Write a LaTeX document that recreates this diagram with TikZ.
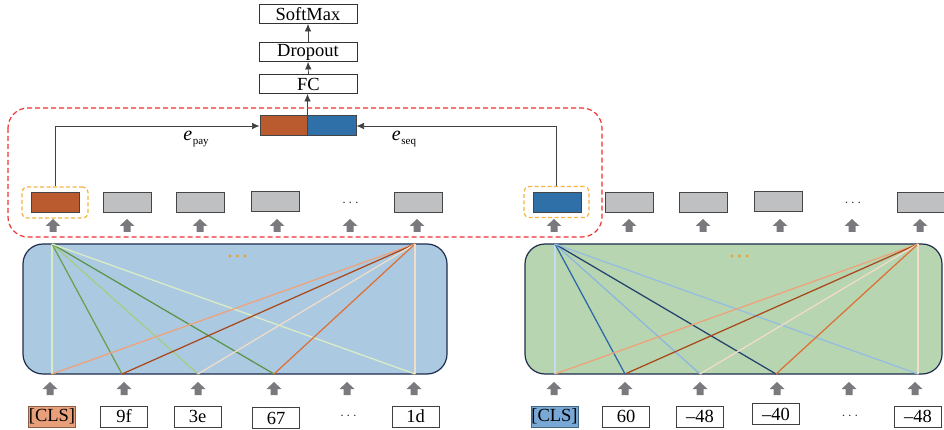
\documentclass[tikz,border=0pt]{standalone}
\usepackage{fontspec}
\setmainfont{Liberation Serif}
\usetikzlibrary{arrows.meta}

\definecolor{encblue}{HTML}{ABCAE2}
\definecolor{encgreen}{HTML}{B7D5B1}
\definecolor{encborder}{HTML}{1E2D4D}
\definecolor{vecorange}{HTML}{B95B2F}
\definecolor{vecblue}{HTML}{2F70A8}
\definecolor{vecgray}{HTML}{BFC0C2}
\definecolor{vecborder}{HTML}{454545}
\definecolor{arrgray}{HTML}{7A7A7E}
\definecolor{reddash}{HTML}{EE3333}
\definecolor{amber}{HTML}{F5B342}
\definecolor{dotorange}{HTML}{F0A030}
\definecolor{clsorange}{HTML}{E8A07A}
\definecolor{clsblue}{HTML}{78A9D6}
% attention lines
\definecolor{gPale}{HTML}{D9EBC2}
\definecolor{gMid}{HTML}{6C9E4C}
\definecolor{gLight}{HTML}{A5CD86}
\definecolor{gDark}{HTML}{5C9445}
\definecolor{gFaint}{HTML}{DCEDC6}
\definecolor{oSalmon}{HTML}{EFA27A}
\definecolor{oBrown}{HTML}{A9481A}
\definecolor{oPeach}{HTML}{F1DCC8}
\definecolor{oOrange}{HTML}{DE7036}
\definecolor{oPale}{HTML}{F2DDCB}
\definecolor{bPale}{HTML}{C6DCF0}
\definecolor{bMid}{HTML}{2C68A6}
\definecolor{bLight}{HTML}{8BB6E0}
\definecolor{bNavy}{HTML}{22416D}
\definecolor{bLightB}{HTML}{95BCE3}

\tikzset{
  uparr/.pic={\fill[arrgray] (-7.5,0) -- (0,-7) -- (7.5,0) -- (3.5,0) -- (3.5,6) -- (-3.5,6) -- (-3.5,0) -- cycle;},
  headbox/.style={draw=black!80, line width=0.8pt, fill=white, minimum width=98pt, minimum height=19pt, inner sep=0pt, font=\fontsize{18.5}{20}\selectfont},
  vecbox/.style={draw=vecborder, line width=1pt, minimum width=48pt, minimum height=20pt, inner sep=0pt},
  token/.style={draw=black!75, line width=0.7pt, fill=white, minimum width=47pt, minimum height=21pt, inner sep=0pt, font=\fontsize{18.5}{20}\selectfont},
  dots/.style={inner sep=0pt, text=black!80, font=\fontsize{15}{15}\selectfont},
  selbox/.style={draw=amber, line width=1.2pt, dash pattern=on 4pt off 2.5pt, rounded corners=5pt, minimum width=66pt, minimum height=31pt, inner sep=0pt},
  encoder/.style={draw=encborder, line width=1.2pt, rounded corners=20pt},
  arr/.style={draw=black!75, line width=0.7pt, -{Latex[length=7.5pt,width=6.5pt]}},
  att/.style={line width=1.25pt},
}

\begin{document}
\begin{tikzpicture}[x=1pt,y=-1pt]
\useasboundingbox (0,0) rectangle (944,430);

% ---------- classification head ----------
\node[headbox] (softmax) at (308,14) {SoftMax};
\node[headbox] (dropout) at (308,52) {Dropout};
\node[headbox] (fc) at (308.5,84) {FC};
\node[vecbox, fill=vecorange, minimum width=47pt] (catL) at (283.5,126) {};
\node[vecbox, fill=vecblue, minimum width=49pt] (catR) at (331.5,126) {};

\draw[arr] (catL.north east) -- (catL.north east |- fc.south);
\draw[arr] (fc.north) -- (dropout.south);
\draw[arr] (dropout.north) -- (softmax.south);

% ---------- region around the payload encoder output ----------
\draw[reddash, line width=1.2pt, dash pattern=on 5pt off 3pt, rounded corners=20pt] (8,108) rectangle (602,237);

% ---------- payload encoder outputs ----------
\node[selbox] (selL) at (55,202.5) {};
\node[vecbox, fill=vecorange] (pL1) at (55,203) {};
\node[vecbox, fill=vecgray] (pL2) at (127,203) {};
\node[vecbox, fill=vecgray] (pL3) at (200,203) {};
\node[vecbox, fill=vecgray] (pL4) at (275.5,202) {};
\node[dots] (pL5) at (350.5,203) {$\cdots$};
\node[vecbox, fill=vecgray] (pL6) at (418.5,203) {};

% ---------- sequence encoder outputs ----------
\node[selbox, minimum width=65pt] (selR) at (556.5,202) {};
\node[vecbox, fill=vecblue] (pR1) at (557,203) {};
\node[vecbox, fill=vecgray] (pR2) at (629.5,203) {};
\node[vecbox, fill=vecgray] (pR3) at (703.5,203) {};
\node[vecbox, fill=vecgray] (pR4) at (778.5,202) {};
\node[dots] (pR5) at (853,203) {$\cdots$};
\node[vecbox, fill=vecgray] (pR6) at (921,203) {};

% feature vectors into the concatenation
\draw[arr] (selL.north) |- (catL.west);
\draw[arr] (selR.north) |- (catR.east);
\node[inner sep=0pt, anchor=base] (epay) at (196,141) {\fontsize{20}{20}\selectfont\itshape e\kern0.5pt\raisebox{-4pt}{\upshape\fontsize{11}{11}\selectfont pay}};
\node[inner sep=0pt, anchor=base] (eseq) at (404,141) {\fontsize{20}{20}\selectfont\itshape e\kern0.5pt\raisebox{-4pt}{\upshape\fontsize{11}{11}\selectfont seq}};

% block arrows under the output row
\foreach \x in {53,127,200,277,350,417,554,629,703,780,852,920}
  \pic at (\x,226) {uparr};

% ---------- payload encoder ----------
\draw[encoder, fill=encblue] (23,244) rectangle (447,374);
\coordinate (lTL) at (52,244);
\coordinate (lTR) at (415,244);
\coordinate (lB1) at (52,374);
\coordinate (lB2) at (122,374);
\coordinate (lB3) at (198,374);
\coordinate (lB4) at (274,374);
\coordinate (lB5) at (415,374);
\draw[att, gPale] (lTL) -- (lB1);
\draw[att, gMid] (lTL) -- (lB2);
\draw[att, gLight] (lTL) -- (lB3);
\draw[att, gDark] (lTL) -- (lB4);
\draw[att, gFaint] (lTL) -- (lB5);
\draw[att, oSalmon] (lTR) -- (lB1);
\draw[att, oBrown] (lTR) -- (lB2);
\draw[att, oPeach] (lTR) -- (lB3);
\draw[att, oOrange] (lTR) -- (lB4);
\draw[att, oPale] (lTR) -- (lB5);
\foreach \x in {230,237.5,245} \fill[dotorange] (\x,256) circle (1.6);

% ---------- sequence encoder ----------
\draw[encoder, fill=encgreen] (525,244) rectangle (942,374);
\coordinate (rTL) at (555,244);
\coordinate (rTR) at (918,244);
\coordinate (rB1) at (555,374);
\coordinate (rB2) at (625,374);
\coordinate (rB3) at (700,374);
\coordinate (rB4) at (776,374);
\coordinate (rB5) at (918,374);
\draw[att, bPale] (rTL) -- (rB1);
\draw[att, bMid] (rTL) -- (rB2);
\draw[att, bLight] (rTL) -- (rB3);
\draw[att, bNavy] (rTL) -- (rB4);
\draw[att, bLightB] (rTL) -- (rB5);
\draw[att, oSalmon] (rTR) -- (rB1);
\draw[att, oBrown] (rTR) -- (rB2);
\draw[att, oPeach] (rTR) -- (rB3);
\draw[att, oOrange] (rTR) -- (rB4);
\draw[att, oPale] (rTR) -- (rB5);
\foreach \x in {732,739.5,747} \fill[dotorange] (\x,256) circle (1.6);

% block arrows under the encoders
\foreach \x in {50,124,198,274,347,414,554,625,700,777,849,915}
  \pic at (\x,389) {uparr};

% ---------- input tokens ----------
\node[token, fill=clsorange, draw=clsorange!60!black] (tL1) at (52,416.5) {[CLS]};
\node[token] (tL2) at (124,416.5) {9f};
\node[token] (tL3) at (197.5,416.5) {3e};
\node[token] (tL4) at (276,418) {67};
\node[dots] (tL5) at (348.5,416) {$\cdots$};
\node[token] (tL6) at (415.5,416.5) {1d};

\node[token, fill=clsblue, draw=clsblue!60!black] (tR1) at (554.5,416.5) {[CLS]};
\node[token] (tR2) at (626,416.5) {60};
\node[token] (tR3) at (700,416.5) {\textendash48};
\node[token] (tR4) at (776,414) {\textendash40};
\node[dots] (tR5) at (850,416) {$\cdots$};
\node[token] (tR6) at (918,416.5) {\textendash48};
\end{tikzpicture}
\end{document}
